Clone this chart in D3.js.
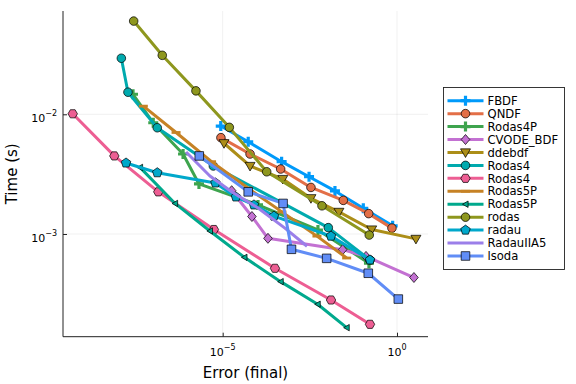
<!DOCTYPE html>
<html>
<head>
<meta charset="utf-8">
<script src="https://cdn.jsdelivr.net/npm/d3@7"></script>
<style>
body { margin: 0; background: #fff; }
text { font-family: "DejaVu Sans", sans-serif; fill: #000; }
</style>
</head>
<body>
<div id="chart"></div>
<script>
// solver names, in plotting order
var solvers = ["FBDF", "QNDF", "Rodas4P", "CVODE_BDF", "ddebdf", "Rodas4", "Rodas4",
               "Rodas5P", "Rodas5P", "rodas", "radau", "RadauIIA5", "lsoda"];

// final error / run time per solver
var errFBDF = [8.8e-6, 5.4e-5, 4.9e-4, 3.0e-3, 1.66e-2, 0.108, 0.75];
var timeFBDF = [7.98e-3, 5.9e-3, 4.02e-3, 3.01e-3, 2.29e-3, 1.64e-3, 1.17e-3];
var errQNDF = [8.9e-6, 6.1e-5, 4.6e-4, 3.4e-3, 2.88e-2, 0.154, 0.716];
var timeQNDF = [6.38e-3, 4.66e-3, 3.49e-3, 2.45e-3, 1.91e-3, 1.48e-3, 1.12e-3];
var errRodas4P = [2.68e-8, 1.02e-7, 7.3e-7, 2.09e-6, 1.03e-4, 5.4e-3, 0.157];
var timeRodas4P = [1.47e-2, 8.5e-3, 4.66e-3, 2.62e-3, 1.75e-3, 1.08e-3, 5.7e-4];
var errCVODE = [1.81e-5, 6.9e-5, 1.99e-4, 2.76e-2, 0.129, 3.06];
var timeCVODE = [2.30e-3, 1.40e-3, 9.2e-4, 7.4e-4, 6.5e-4, 4.33e-4];
var errDdebdf = [1.09e-5, 6.1e-5, 5.3e-4, 3.4e-3, 2.16e-2, 0.188, 3.49];
var timeDdebdf = [5.73e-3, 3.70e-3, 2.88e-3, 1.99e-3, 1.53e-3, 1.09e-3, 9.1e-4];
var errRodas4a = [1.24e-8, 1.92e-8, 1.33e-7, 5.4e-6, 1.07e-2, 0.168];
var timeRodas4a = [2.94e-2, 1.53e-2, 7.72e-3, 3.70e-3, 1.13e-3, 6.07e-4];
var errRodas4b = [5.0e-10, 7.8e-9, 1.42e-7, 5.6e-6, 3.16e-4, 1.28e-2, 0.168];
var timeRodas4b = [1.01e-2, 4.49e-3, 2.25e-3, 1.09e-3, 5.17e-4, 2.81e-4, 1.76e-4];
var errRodas5Pa = [5.3e-8, 4.6e-7, 4.8e-6, 5.3e-5, 5.0e-4, 5.06e-3, 3.6e-2];
var timeRodas5Pa = [1.17e-2, 7.05e-3, 4.02e-3, 2.42e-3, 1.53e-3, 9.6e-4, 6.3e-4];
var errRodas5Pb = [4.25e-8, 4.3e-7, 4.3e-6, 4.2e-5, 4.6e-4, 5.3e-3, 3.6e-2];
var timeRodas5Pb = [3.6e-3, 1.80e-3, 1.06e-3, 6.38e-4, 4.0e-4, 2.59e-4, 1.65e-4];
var errRodas = [2.8e-8, 1.85e-7, 1.71e-6, 1.55e-5, 1.83e-4, 7.05e-3, 0.16];
var timeRodas = [6.01e-2, 3.11e-2, 1.57e-2, 7.78e-3, 3.31e-3, 1.72e-3, 9.8e-4];
var errRadau = [1.69e-8, 1.33e-7, 6.2e-6, 2.4e-5, 7.9e-5, 2.96e-4, 1.28e-2, 0.168];
var timeRadau = [3.92e-3, 3.25e-3, 2.67e-3, 2.04e-3, 1.75e-3, 1.41e-3, 9.6e-4, 6.07e-4];
var errRadauIIA5 = [8.9e-7, 4.3e-6, 1.85e-5, 1.03e-4, 6.1e-4, 2.62e-3];
var timeRadauIIA5 = [4.84e-3, 3.05e-3, 2.24e-3, 1.65e-3, 1.12e-3, 7.9e-4];
var errLsoda = [2.13e-6, 5.4e-5, 5.4e-4, 9.4e-4, 9.6e-3, 0.15, 1.09];
var timeLsoda = [4.49e-3, 2.25e-3, 1.80e-3, 7.45e-4, 6.26e-4, 4.7e-4, 2.86e-4];

var xTicks = [1e-5, 1];
var xTickExp = ["−5", "0"];
var yTicks = [1e-2, 1e-3];
var yTickExp = ["−2", "−3"];

var errs = [errFBDF, errQNDF, errRodas4P, errCVODE, errDdebdf, errRodas4a, errRodas4b,
            errRodas5Pa, errRodas5Pb, errRodas, errRadau, errRadauIIA5, errLsoda];
var times = [timeFBDF, timeQNDF, timeRodas4P, timeCVODE, timeDdebdf, timeRodas4a, timeRodas4b,
             timeRodas5Pa, timeRodas5Pb, timeRodas, timeRadau, timeRadauIIA5, timeLsoda];

var colors = ["#009AFA", "#E36F47", "#3EA44E", "#C371D2", "#AC8E18", "#00AAAE", "#ED5E93",
              "#C68225", "#00A98D", "#8E971E", "#00A8CB", "#9B7FE9", "#618DF6"];
var markers = ["cross", "circle", "cross", "diamond", "dtriangle", "circle", "hexagon",
               "hline", "ltriangle", "circle", "pentagon", "none", "square"];

var W = 576, H = 384;
var margin = { top: 11, bottom: 47.3, left: 63, right: 148 };

var svg = d3.select("#chart")
  .append("svg")
  .attr("width", W)
  .attr("height", H);

var x = d3.scaleLog()
  .domain([Math.pow(10, -9.58), Math.pow(10, 0.889)])
  .range([margin.left, W - margin.right]);
var y = d3.scaleLog()
  .domain([Math.pow(10, -3.858), Math.pow(10, -1.137)])
  .range([H - margin.bottom, margin.top]);

var x0 = margin.left, x1 = W - margin.right, y0 = H - margin.bottom, y1 = margin.top;

// grid
svg.selectAll(".gx").data(xTicks).enter().append("line")
  .attr("x1", function(d) { return x(d) }).attr("x2", function(d) { return x(d) })
  .attr("y1", y0).attr("y2", y1)
  .attr("stroke", "#000").attr("stroke-opacity", 0.1).attr("stroke-width", 0.6);
svg.selectAll(".gy").data(yTicks).enter().append("line")
  .attr("y1", function(d) { return y(d) }).attr("y2", function(d) { return y(d) })
  .attr("x1", x0).attr("x2", x1)
  .attr("stroke", "#000").attr("stroke-opacity", 0.1).attr("stroke-width", 0.6);

// axes
var gx = svg.append("g")
  .attr("transform", "translate(0," + y0 + ")")
  .call(d3.axisBottom(x).tickValues(xTicks).tickSize(-4).tickFormat(""));
var gy = svg.append("g")
  .attr("transform", "translate(" + x0 + ",0)")
  .call(d3.axisLeft(y).tickValues(yTicks).tickSize(-4).tickFormat(""));
gx.select(".domain").attr("d", "M" + x0 + ",0H" + x1).attr("stroke", "#222");
gy.select(".domain").attr("d", "M0," + y0 + "V" + y1).attr("stroke", "#222");
svg.selectAll(".tick line").attr("stroke", "#222");

// tick labels with superscripts
xTicks.forEach(function(t, i) {
  var tx = svg.append("text")
    .attr("x", x(t)).attr("y", y0 + 19.5)
    .attr("text-anchor", "middle")
    .style("font-size", "11px");
  tx.append("tspan").text("10");
  tx.append("tspan").attr("dy", -6).style("font-size", "8px").text(xTickExp[i]);
});
yTicks.forEach(function(t, i) {
  var ty = svg.append("text")
    .attr("x", x0 - 6).attr("y", y(t) + 8)
    .attr("text-anchor", "end")
    .style("font-size", "11px");
  ty.append("tspan").text("10");
  ty.append("tspan").attr("dy", -6).style("font-size", "8px").text(yTickExp[i]);
});

// axis titles
svg.append("text")
  .attr("x", (x0 + x1) / 2).attr("y", 378)
  .attr("text-anchor", "middle")
  .style("font-size", "15px")
  .text("Error (final)");
svg.append("text")
  .attr("transform", "translate(17," + ((y0 + y1) / 2) + ") rotate(-90)")
  .attr("text-anchor", "middle")
  .style("font-size", "15px")
  .text("Time (s)");

function markerPath(type) {
  var r, pts = [], i, a;
  if (type == "circle") return d3.symbol().type(d3.symbolCircle).size(58)();
  if (type == "square") return "M-4.3,-4.3H4.3V4.3H-4.3Z";
  if (type == "diamond") return "M0,-5L4.3,0L0,5L-4.3,0Z";
  if (type == "dtriangle") return "M-5,-3.6L5,-3.6L0,5Z";
  if (type == "ltriangle") return "M-3,0L2.6,-3.2L2.6,3.2Z";
  if (type == "hline") return "M-4.5,-1.4H4.5V1.4H-4.5Z";
  if (type == "cross") return "M-1.6,-5H1.6V-1.6H5V1.6H1.6V5H-1.6V1.6H-5V-1.6H-1.6Z";
  if (type == "pentagon" || type == "hexagon") {
    var n = type == "pentagon" ? 5 : 6;
    r = type == "pentagon" ? 5 : 4.7;
    for (i = 0; i < n; i++) {
      a = -Math.PI / 2 + i * 2 * Math.PI / n;
      if (n == 6) a += Math.PI / 6;
      pts.push([r * Math.cos(a), r * Math.sin(a)]);
    }
    return "M" + pts.join("L") + "Z";
  }
  return null;
}

function drawMarker(g, type, color, px, py) {
  var p = markerPath(type);
  if (!p) return;
  var m = g.append("path")
    .attr("d", p)
    .attr("transform", "translate(" + px + "," + py + ")")
    .attr("fill", color);
  if (type == "cross" || type == "hline") m.attr("stroke", "none");
  else m.attr("stroke", "#000").attr("stroke-opacity", 0.8).attr("stroke-width", 0.9);
}

var line = d3.line()
  .x(function(d) { return x(d[0]) })
  .y(function(d) { return y(d[1]) });

var plot = svg.append("g");
solvers.forEach(function(s, i) {
  var pts = d3.zip(errs[i], times[i]);
  var g = plot.append("g");
  g.append("path")
    .attr("d", line(pts))
    .attr("fill", "none")
    .attr("stroke", colors[i])
    .attr("stroke-width", 3)
    .attr("stroke-linejoin", "round");
  pts.forEach(function(d) {
    drawMarker(g, markers[i], colors[i], x(d[0]), y(d[1]));
  });
});

// legend
var lg = svg.append("g");
lg.append("rect")
  .attr("x", 443.5).attr("y", 87.5)
  .attr("width", 121).attr("height", 182)
  .attr("fill", "#fff")
  .attr("stroke", "#222").attr("stroke-width", 0.9);
solvers.forEach(function(s, i) {
  var ly = 100.7 + i * 12.94;
  lg.append("line")
    .attr("x1", 447.5).attr("x2", 483.5)
    .attr("y1", ly).attr("y2", ly)
    .attr("stroke", colors[i]).attr("stroke-width", 3);
  drawMarker(lg, markers[i], colors[i], 465.5, ly);
  lg.append("text")
    .attr("x", 487.5).attr("y", ly + 4.2)
    .style("font-size", "11.6px")
    .text(s);
});
</script>
</body>
</html>
